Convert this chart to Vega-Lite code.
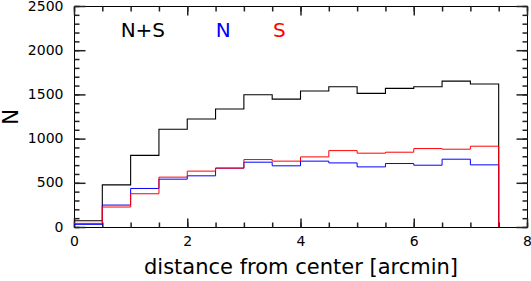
{
  "$schema": "https://vega.github.io/schema/vega-lite/v6.json",
  "autosize": "none",
  "padding": {"left": 74, "top": 6, "right": 4, "bottom": 54},
  "width": 453,
  "height": 221,
  "background": "white",
  "config": {
    "view": {"stroke": "black", "strokeWidth": 1},
    "axis": {
      "grid": false,
      "domain": false,
      "ticks": true,
      "tickColor": "#222",
      "tickWidth": 1.5,
      "tickRound": false,
      "labelColor": "black",
      "titleColor": "black",
      "labelFont": "DejaVu Sans",
      "titleFont": "DejaVu Sans",
      "labelFontSize": 14,
      "titleFontSize": 21,
      "titleFontWeight": "normal",
      "labelFlush": false,
      "labelOverlap": false,
      "format": "d"
    }
  },
  "data": {
    "values": [
      {"r": 0.0, "ns": 71, "n": 30, "s": 41},
      {"r": 0.5, "ns": 477, "n": 248, "s": 226},
      {"r": 1.0, "ns": 810, "n": 436, "s": 376},
      {"r": 1.5, "ns": 1105, "n": 541, "s": 564},
      {"r": 2.0, "ns": 1222, "n": 579, "s": 632},
      {"r": 2.5, "ns": 1335, "n": 666, "s": 666},
      {"r": 3.0, "ns": 1496, "n": 733, "s": 763},
      {"r": 3.5, "ns": 1447, "n": 692, "s": 745},
      {"r": 4.0, "ns": 1538, "n": 745, "s": 793},
      {"r": 4.5, "ns": 1586, "n": 725, "s": 864},
      {"r": 5.0, "ns": 1512, "n": 680, "s": 835},
      {"r": 5.5, "ns": 1568, "n": 718, "s": 846},
      {"r": 6.0, "ns": 1586, "n": 699, "s": 887},
      {"r": 6.5, "ns": 1650, "n": 767, "s": 880},
      {"r": 7.0, "ns": 1617, "n": 703, "s": 914},
      {"r": 7.5, "ns": 0, "n": 0, "s": 0}
    ]
  },
  "resolve": {"axis": {"x": "independent", "y": "independent"}},
  "layer": [
    {
      "mark": {"type": "line", "interpolate": "step-after", "color": "black", "strokeWidth": 1.1},
      "encoding": {
        "x": {"field": "r", "type": "quantitative", "scale": {"domain": [0, 8], "nice": false},
          "axis": {"orient": "bottom", "values": [0, 2, 4, 6, 8], "tickSize": -9, "labelPadding": 16, "title": "distance from center [arcmin]", "titlePadding": 8}},
        "y": {"field": "ns", "type": "quantitative", "scale": {"domain": [0, 2500], "nice": false},
          "axis": {"orient": "left", "values": [0, 500, 1000, 1500, 2000, 2500], "tickSize": -11, "labelPadding": 22, "title": "N", "titlePadding": 6}}
      }
    },
    {
      "mark": {"type": "line", "interpolate": "step-after", "color": "blue", "strokeWidth": 1},
      "encoding": {
        "x": {"field": "r", "type": "quantitative", "scale": {"domain": [0, 8], "nice": false},
          "axis": {"orient": "top", "values": [0, 2, 4, 6, 8], "tickSize": -9, "labels": false, "title": null}},
        "y": {"field": "n", "type": "quantitative", "scale": {"domain": [0, 2500], "nice": false},
          "axis": {"orient": "right", "values": [0, 500, 1000, 1500, 2000, 2500], "tickSize": -11, "labels": false, "title": null}}
      }
    },
    {
      "mark": {"type": "line", "interpolate": "step-after", "color": "red", "strokeWidth": 1},
      "encoding": {
        "x": {"field": "r", "type": "quantitative", "scale": {"domain": [0, 8], "nice": false},
          "axis": {"orient": "bottom", "values": [0, 0.5, 1, 1.5, 2, 2.5, 3, 3.5, 4, 4.5, 5, 5.5, 6, 6.5, 7, 7.5, 8], "tickSize": -5, "labels": false, "title": null}},
        "y": {"field": "s", "type": "quantitative", "scale": {"domain": [0, 2500], "nice": false},
          "axis": {"orient": "left", "values": [0, 100, 200, 300, 400, 500, 600, 700, 800, 900, 1000, 1100, 1200, 1300, 1400, 1500, 1600, 1700, 1800, 1900, 2000, 2100, 2200, 2300, 2400, 2500], "tickSize": -5, "labels": false, "title": null}}
      }
    },
    {
      "data": {"values": [{"label": "N+S"}]},
      "mark": {"type": "text", "color": "black", "font": "DejaVu Sans", "fontSize": 20, "baseline": "middle", "align": "center"},
      "encoding": {
        "text": {"field": "label"},
        "x": {"datum": 1.216, "type": "quantitative", "scale": {"domain": [0, 8], "nice": false},
          "axis": {"orient": "top", "values": [0, 0.5, 1, 1.5, 2, 2.5, 3, 3.5, 4, 4.5, 5, 5.5, 6, 6.5, 7, 7.5, 8], "tickSize": -5, "labels": false, "title": null}},
        "y": {"datum": 2217, "type": "quantitative", "scale": {"domain": [0, 2500], "nice": false},
          "axis": {"orient": "right", "values": [0, 100, 200, 300, 400, 500, 600, 700, 800, 900, 1000, 1100, 1200, 1300, 1400, 1500, 1600, 1700, 1800, 1900, 2000, 2100, 2200, 2300, 2400, 2500], "tickSize": -5, "labels": false, "title": null}}
      }
    },
    {
      "data": {"values": [{"label": "N"}]},
      "mark": {"type": "text", "color": "blue", "font": "DejaVu Sans", "fontSize": 20, "baseline": "middle", "align": "center"},
      "encoding": {
        "text": {"field": "label"},
        "x": {"datum": 2.637, "type": "quantitative", "axis": null},
        "y": {"datum": 2217, "type": "quantitative", "axis": null}
      }
    },
    {
      "data": {"values": [{"label": "S"}]},
      "mark": {"type": "text", "color": "red", "font": "DejaVu Sans", "fontSize": 20, "baseline": "middle", "align": "center"},
      "encoding": {
        "text": {"field": "label"},
        "x": {"datum": 3.628, "type": "quantitative", "axis": null},
        "y": {"datum": 2217, "type": "quantitative", "axis": null}
      }
    }
  ]
}
